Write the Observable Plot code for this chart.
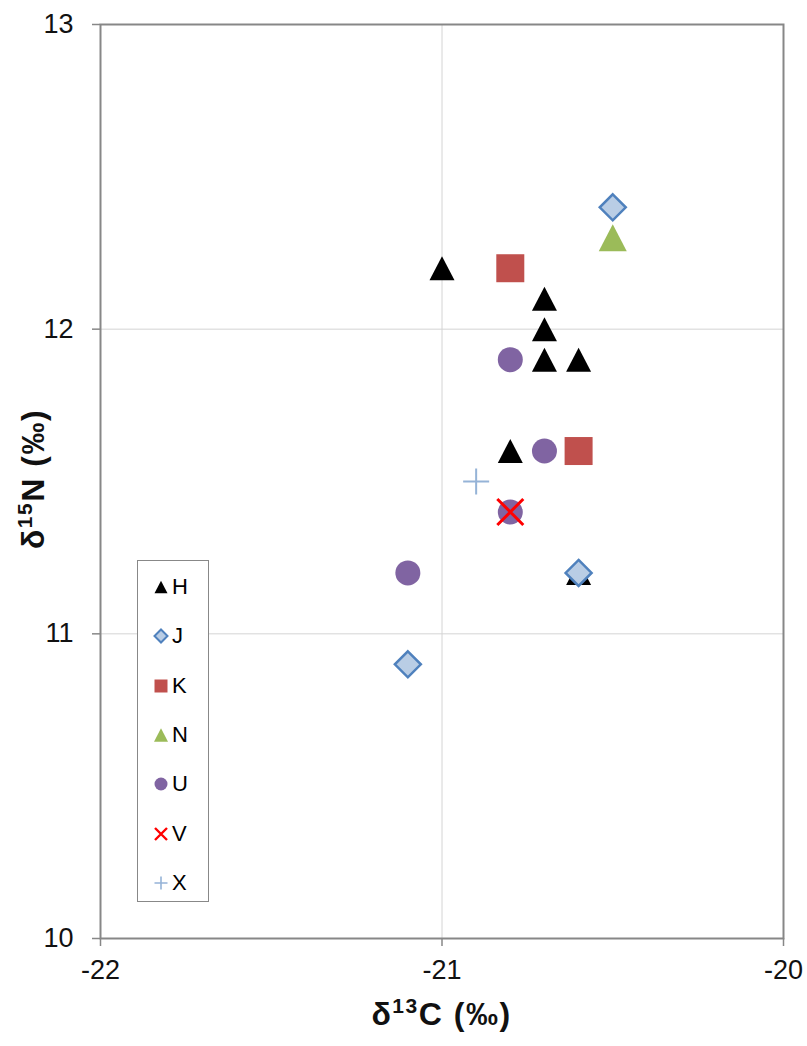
<!DOCTYPE html>
<html>
<head>
<meta charset="utf-8">
<script src="https://cdn.jsdelivr.net/npm/d3@7"></script>
<script src="https://cdn.jsdelivr.net/npm/@observablehq/plot@0.6"></script>
<style>
  html, body { margin: 0; padding: 0; background: #fff; }
  #wrap { position: relative; width: 807px; height: 1046px; font-family: "Liberation Sans", Arial, sans-serif; }
  #legend { position: absolute; left: 137px; top: 560px; width: 72px; height: 342px; border: 1px solid #888; background: #fff; box-sizing: border-box; }
  .lg-item { position: absolute; left: 0; height: 30px; display: flex; align-items: center; }
  .lg-item svg { display: block; }
  .lg-item span { font-size: 22px; color: #000; margin-left: 2px; }
</style>
</head>
<body>
<div id="wrap"></div>
<script>
// ---- data (δ13C, δ15N) per group ----
const seriesNames = ["H", "J", "K", "N", "U", "V", "X"];
const hC = [-21.0, -20.7, -20.7, -20.7, -20.6, -20.8, -20.6];
const hN = [12.2, 12.1, 12.0, 11.9, 11.9, 11.6, 11.2];
const jC = [-20.5, -20.6, -21.1];
const jN = [12.4, 11.2, 10.9];
const kC = [-20.8, -20.6];
const kN = [12.2, 11.6];
const nC = [-20.5];
const nN = [12.3];
const uC = [-20.8, -20.7, -20.8, -21.1];
const uN = [11.9, 11.6, 11.4, 11.2];
const vC = [-20.8];
const vN = [11.4];
const xC = [-20.9];
const xN = [11.5];
const xTicks = [-22, -21, -20];
const yTicks = [10, 11, 12, 13];

const seriesC = {H: hC, J: jC, K: kC, N: nC, U: uC, V: vC, X: xC};
const seriesN = {H: hN, J: jN, K: kN, N: nN, U: uN, V: vN, X: xN};

// ---- custom symbols (r = half-size) ----
function mk(fn) { return {draw(ctx, size) { fn(ctx, Math.sqrt(size / Math.PI)); }}; }
const symTri = mk((c, r) => { c.moveTo(0, -r * 0.96); c.lineTo(r, r * 0.96); c.lineTo(-r, r * 0.96); c.closePath(); });
const symDia = mk((c, r) => { c.moveTo(0, -r); c.lineTo(r, 0); c.lineTo(0, r); c.lineTo(-r, 0); c.closePath(); });
const symSq = mk((c, r) => { c.rect(-r, -r, 2 * r, 2 * r); });
const symCir = mk((c, r) => { c.moveTo(r, 0); c.arc(0, 0, r, 0, 2 * Math.PI); c.closePath(); });
const symTimes = mk((c, r) => { c.moveTo(-r, -r); c.lineTo(r, r); c.moveTo(r, -r); c.lineTo(-r, r); });
const symPlus = mk((c, r) => { c.moveTo(-r, 0); c.lineTo(r, 0); c.moveTo(0, -r); c.lineTo(0, r); });

const styles = {
  H: {symbol: symTri, fill: "#000000", stroke: "none", strokeWidth: 0, r: 12.5, lr: 6.5},
  J: {symbol: symDia, fill: "#b9cde5", stroke: "#4f81bd", strokeWidth: 2.5, r: 13, lr: 6.5},
  K: {symbol: symSq, fill: "#c0504d", stroke: "none", strokeWidth: 0, r: 14, lr: 6.5},
  N: {symbol: symTri, fill: "#9bbb59", stroke: "none", strokeWidth: 0, r: 14, lr: 7},
  U: {symbol: symCir, fill: "#8064a2", stroke: "none", strokeWidth: 0, r: 12.5, lr: 6.5},
  V: {symbol: symTimes, fill: "none", stroke: "#ff0000", strokeWidth: 3, r: 13, lr: 6},
  X: {symbol: symPlus, fill: "none", stroke: "#95b3d7", strokeWidth: 2, r: 13, lr: 6.5}
};

const W = 807, H = 1046;
const mL = 100, mR = 24, mT = 24, mB = 108;

const dotMarks = seriesNames.map(s => {
  const rows = seriesC[s].map((c, i) => ({series: s, c, n: seriesN[s][i]}));
  const st = styles[s];
  return Plot.dot(rows, {x: "c", y: "n", symbol: st.symbol, r: st.r, fill: st.fill, stroke: st.stroke, strokeWidth: st.strokeWidth});
});

const svg = Plot.plot({
  width: W, height: H,
  marginLeft: mL, marginRight: mR, marginTop: mT, marginBottom: mB,
  style: {fontFamily: "'Liberation Sans', Arial, sans-serif", fontSize: "27px", color: "#000", background: "#fff"},
  x: {domain: [-22, -20]},
  y: {domain: [10, 13]},
  marks: [
    Plot.gridX(xTicks.filter(d => d > -22 && d < -20), {stroke: "#d4d4d4", strokeOpacity: 1, strokeWidth: 1}),
    Plot.gridY(yTicks.filter(d => d > 10 && d < 13), {stroke: "#d4d4d4", strokeOpacity: 1, strokeWidth: 1}),
    Plot.frame({stroke: "#878787", strokeWidth: 2}),
    Plot.axisX({ticks: xTicks, tickFormat: d => String(d), tickSize: 8, tickPadding: 13, stroke: "#878787", strokeWidth: 1.5, label: null, fill: "#111"}),
    Plot.axisY({ticks: yTicks, tickFormat: d => String(d), tickSize: 8, tickPadding: 19, stroke: "#878787", strokeWidth: 1.5, label: null, fill: "#111"}),
    ...dotMarks
  ]
});

// axis titles with real superscripts
const sel = d3.select(svg);
const cx = (mL + (W - mR)) / 2, cy = (mT + (H - mB)) / 2;
function title(g, base, sup, rest) {
  g.attr("text-anchor", "middle").attr("font-weight", "bold").attr("font-size", 32)
    .attr("letter-spacing", 1.5).attr("fill", "#111");
  g.append("tspan").text(base);
  g.append("tspan").attr("font-size", 21).attr("dy", -12).text(sup);
  g.append("tspan").attr("dy", 12).text(rest);
}
title(sel.append("text").attr("x", cx).attr("y", 1025), "δ", "13", "C (‰)");
title(sel.append("text").attr("transform", `translate(44,${cy - 2}) rotate(-90)`), "δ", "15", "N (‰)");

const wrap = document.getElementById("wrap");
wrap.appendChild(svg);

// legend
const legend = document.createElement("div");
legend.id = "legend";
wrap.appendChild(legend);
seriesNames.forEach((s, i) => {
  const st = styles[s];
  const item = document.createElement("div");
  item.className = "lg-item";
  item.style.top = (11 + i * 49.3) + "px";
  item.style.left = "14px";
  const ls = d3.create("svg").attr("width", 18).attr("height", 18);
  ls.append("path").attr("transform", "translate(9,9)")
    .attr("d", d3.symbol(st.symbol, st.lr * st.lr * Math.PI)())
    .attr("fill", st.fill).attr("stroke", st.stroke).attr("stroke-width", st.strokeWidth ? Math.max(1.5, st.strokeWidth * 0.8) : 0);
  item.appendChild(ls.node());
  const t = document.createElement("span");
  t.textContent = s;
  item.appendChild(t);
  legend.appendChild(item);
});
</script>
</body>
</html>
